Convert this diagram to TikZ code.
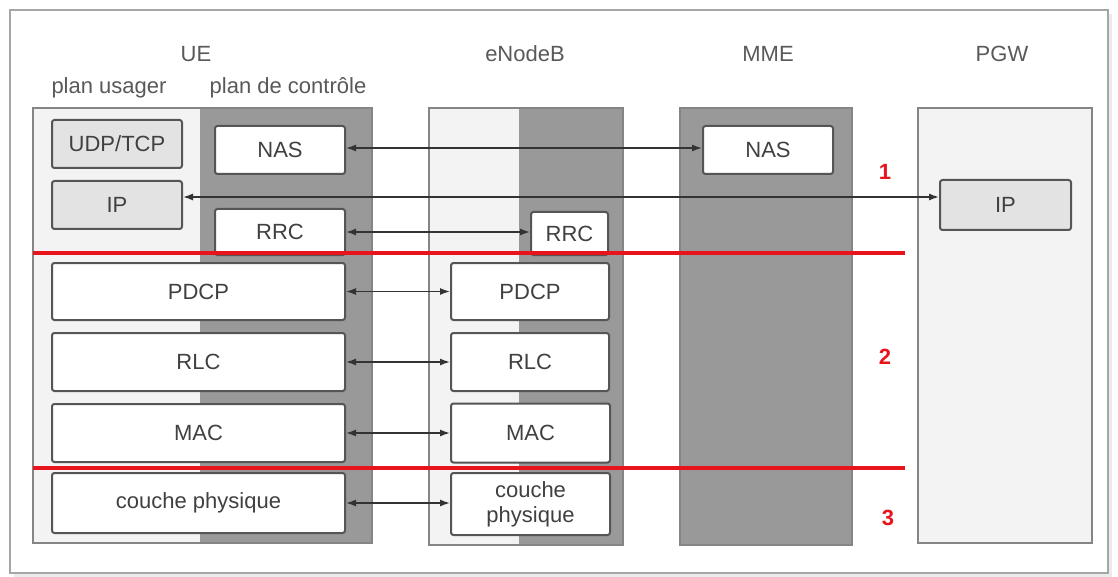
\documentclass[tikz,border=0pt]{standalone}
\usepackage{fontspec}
\setmainfont{Liberation Sans}
\usetikzlibrary{arrows.meta,calc}
\definecolor{ink}{HTML}{404040}
\definecolor{darkcol}{HTML}{999999}
\definecolor{lightcol}{HTML}{F3F3F3}
\definecolor{boxlight}{HTML}{E3E3E3}
\definecolor{rim}{HTML}{858585}
\definecolor{boxrim}{HTML}{555555}
\definecolor{sep}{HTML}{E8141C}
\begin{document}
\begin{tikzpicture}[x=1pt,y=-1pt,
  every node/.style={text=ink,font=\fontsize{22}{24}\selectfont},
  layer/.style={draw=boxrim,line width=2pt,rounded corners=2.5pt,fill=white,inner sep=0pt},
  greylayer/.style={layer,fill=boxlight},
  column/.style={draw=rim,line width=1.4pt},
  title/.style={inner sep=0pt,text=black!65},
  link/.style={draw=black!80,line width=1.4pt,{Latex[length=10pt,width=7pt]}-{Latex[length=10pt,width=7pt]}},
  sepline/.style={draw=sep,line width=4pt},
  zone/.style={text=sep,font=\fontsize{22}{24}\selectfont\bfseries,inner sep=0pt}]
\useasboundingbox (0,0) rectangle (1118,577);
% outer frame
\fill[black!8] (14,14) rectangle (1112,577);
\draw[draw=black!35,line width=1.5pt,fill=white] (10,10) rectangle (1108,573);

% columns
\fill[lightcol] (33,108) rectangle (200,543);
\fill[darkcol] (200,108) rectangle (372,543);
\draw[column] (33,108) rectangle (372,543);
\fill[lightcol] (429,108) rectangle (519,545);
\fill[darkcol] (519,108) rectangle (623,545);
\draw[column] (429,108) rectangle (623,545);
\fill[darkcol] (680,108) rectangle (852,545);
\draw[column] (680,108) rectangle (852,545);
\fill[lightcol] (918,108) rectangle (1092,543);
\draw[column] (918,108) rectangle (1092,543);

% column titles
\node[title] (tue) at (196,54) {UE};
\node[title] (tusr) at (109,88) {plan usager};
\node[title] (tctl) at (288,88) {plan de contrôle};
\node[title] (tenb) at (525,54) {eNodeB};
\node[title] (tmme) at (768,54) {MME};
\node[title] (tpgw) at (1002,54) {PGW};

% UE stack
\node[greylayer,minimum width=130pt,minimum height=48pt] (ueudp) at (117,144) {UDP/TCP};
\node[greylayer,minimum width=130pt,minimum height=48pt] (ueip) at (117,205) {IP};
\node[layer,minimum width=130pt,minimum height=48pt] (uenas) at (280,150) {NAS};
\node[layer,minimum width=130pt,minimum height=46pt] (uerrc) at (280,232) {RRC};
\node[layer,minimum width=293pt,minimum height=57pt] (uepdcp) at (198.5,291.5) {PDCP};
\node[layer,minimum width=293pt,minimum height=58pt] (uerlc) at (198.5,362) {RLC};
\node[layer,minimum width=293pt,minimum height=58pt] (uemac) at (198.5,433) {MAC};
\node[layer,minimum width=293pt,minimum height=60pt] (uephy) at (198.5,503) {couche physique};

% eNodeB stack
\node[layer,minimum width=77pt,minimum height=43pt] (enbrrc) at (569.5,233.5) {RRC};
\node[layer,minimum width=158pt,minimum height=57pt] (enbpdcp) at (530,291.5) {PDCP};
\node[layer,minimum width=158pt,minimum height=58pt] (enbrlc) at (530,362) {RLC};
\node[layer,minimum width=159pt,minimum height=59pt] (enbmac) at (530.5,433) {MAC};
\node[layer,minimum width=159pt,minimum height=62pt,align=center,font=\fontsize{22}{25}\selectfont] (enbphy) at (530.5,504) {couche\\physique};

% MME and PGW
\node[layer,minimum width=130pt,minimum height=48pt] (mmenas) at (768,150) {NAS};
\node[greylayer,minimum width=131pt,minimum height=50pt] (pgwip) at (1005.5,205) {IP};

% peer links
\draw[link] ([yshift=2pt]uenas.east) -- ([yshift=2pt]uenas.east -| mmenas.west);
\draw[link] ([yshift=8pt]ueip.east) -- ([yshift=8pt]ueip.east -| pgwip.west);
\draw[link] (uerrc.east) -- (uerrc.east -| enbrrc.west);
\draw[link] (uepdcp.east) -- (uepdcp.east -| enbpdcp.west);
\draw[link] (uerlc.east) -- (uerlc.east -| enbrlc.west);
\draw[link] (uemac.east) -- (uemac.east -| enbmac.west);
\draw[link] (uephy.east) -- (uephy.east -| enbphy.west);

% layer group separators
\coordinate (s1a) at (33,253);
\coordinate (s1b) at (905,253);
\coordinate (s2a) at (33,468);
\coordinate (s2b) at (905,468);
\draw[sepline] (s1a) -- (s1b);
\draw[sepline] (s2a) -- (s2b);
\node[zone] (z1) at (885,172) {1};
\node[zone] (z2) at (885,357) {2};
\node[zone] (z3) at (888,518) {3};
\end{tikzpicture}
\end{document}
